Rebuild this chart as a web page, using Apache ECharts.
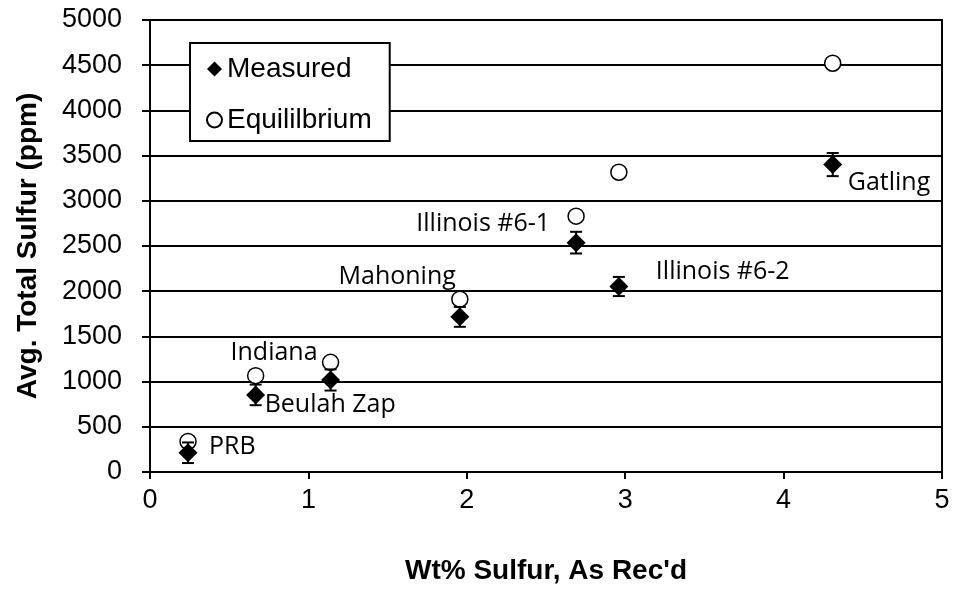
<!DOCTYPE html>
<html>
<head>
<meta charset="utf-8">
<script src="https://cdn.jsdelivr.net/npm/echarts@6/dist/echarts.min.js"></script>
<style>
html,body{margin:0;padding:0;background:#fff;}
#main{width:955px;height:590px;}
</style>
</head>
<body>
<div id="main"></div>
<script>
// ---- data ----
const coalNames = ['PRB', 'Beulah Zap', 'Indiana', 'Mahoning', 'Illinois #6-1', 'Illinois #6-2', 'Gatling'];
const sulfurWt = [0.24, 0.667, 1.14, 1.956, 2.69, 2.96, 4.31];
const measured = [213, 853, 1018, 1716, 2537, 2052, 3401];
const measuredErr = [114, 114, 117, 110, 120, 106, 128];
const equilibrium = [338, 1066, 1213, 1912, 2830, 3316, 4522];
const xTicks = [0, 1, 2, 3, 4, 5];
const yTicks = [0, 500, 1000, 1500, 2000, 2500, 3000, 3500, 4000, 4500, 5000];

// ---- label styling (pixel offsets from the measured marker) ----
const labelStyle = [
  { align: 'left',  offset: [21, -6] },
  { align: 'left',  offset: [9, 10] },
  { align: 'right', offset: [-13, -27] },
  { align: 'right', offset: [-4, -40] },
  { align: 'right', offset: [-26, -19] },
  { align: 'left',  offset: [37, -15] },
  { align: 'left',  offset: [15, 18] }
];

const measuredData = sulfurWt.map((x, i) => ({
  value: [x, measured[i]],
  label: {
    show: true,
    position: 'inside',
    formatter: coalNames[i],
    align: labelStyle[i].align,
    verticalAlign: 'middle',
    offset: labelStyle[i].offset,
    color: '#000',
    fontFamily: 'Open Sans',
    fontSize: 25
  }
}));
const equilibriumData = sulfurWt.map((x, i) => [x, equilibrium[i]]);
const errData = sulfurWt.map((x, i) => [x, measured[i] - measuredErr[i], measured[i] + measuredErr[i]]);

const chart = echarts.init(document.getElementById('main'), null, { renderer: 'canvas' });
chart.setOption({
  animation: false,
  backgroundColor: '#fff',
  grid: { left: 150, right: 13, top: 20, bottom: 117, show: true, borderColor: '#000', borderWidth: 2 },
  legend: {
    data: [
      { name: 'Measured', icon: 'diamond' },
      { name: 'Equililbrium', icon: 'circle' }
    ],
    orient: 'vertical',
    left: 190,
    top: 43,
    itemWidth: 15,
    itemHeight: 15,
    itemGap: 21,
    padding: [11, 18, 6, 16],
    borderColor: '#000',
    borderWidth: 2,
    backgroundColor: '#fff',
    textStyle: { fontFamily: 'Liberation Sans', fontSize: 28, color: '#000', lineHeight: 30 }
  },
  xAxis: {
    type: 'value',
    min: xTicks[0],
    max: xTicks[xTicks.length - 1],
    interval: 1,
    name: "Wt% Sulfur, As Rec'd",
    nameLocation: 'middle',
    nameGap: 85,
    nameTextStyle: { fontFamily: 'Liberation Sans', fontWeight: 'bold', fontSize: 28, color: '#000' },
    axisLine: { show: true, onZero: false, lineStyle: { color: '#000', width: 2 } },
    axisTick: { show: true, inside: false, length: 7, lineStyle: { color: '#000', width: 2 } },
    axisLabel: { fontFamily: 'Liberation Sans', fontSize: 27, color: '#000', margin: 15, formatter: v => String(v) },
    splitLine: { show: false }
  },
  yAxis: {
    type: 'value',
    min: yTicks[0],
    max: yTicks[yTicks.length - 1],
    interval: 500,
    name: 'Avg. Total Sulfur (ppm)',
    nameLocation: 'middle',
    nameGap: 108,
    nameTextStyle: { fontFamily: 'Liberation Sans', fontWeight: 'bold', fontSize: 28, color: '#000' },
    axisLine: { show: true, lineStyle: { color: '#000', width: 2 } },
    axisTick: { show: true, inside: false, length: 8, lineStyle: { color: '#000', width: 2 } },
    axisLabel: { fontFamily: 'Liberation Sans', fontSize: 27, color: '#000', margin: 28, formatter: v => String(v) },
    splitLine: { show: true, lineStyle: { color: '#000', width: 2 } }
  },
  series: [
    {
      name: 'Equililbrium',
      type: 'scatter',
      data: equilibriumData,
      symbol: 'circle',
      symbolSize: 16,
      itemStyle: { color: '#fff', borderColor: '#000', borderWidth: 1.5, opacity: 1 },
      z: 3
    },
    {
      name: 'errorbars',
      type: 'custom',
      data: errData,
      encode: { x: 0, y: [1, 2] },
      renderItem: function (params, api) {
        const x = api.value(0);
        const lo = api.coord([x, api.value(1)]);
        const hi = api.coord([x, api.value(2)]);
        const hw = 6;
        const st = { stroke: '#000', lineWidth: 2 };
        return {
          type: 'group',
          children: [
            { type: 'line', shape: { x1: lo[0], y1: lo[1], x2: hi[0], y2: hi[1] }, style: st },
            { type: 'line', shape: { x1: lo[0] - hw, y1: lo[1], x2: lo[0] + hw, y2: lo[1] }, style: st },
            { type: 'line', shape: { x1: hi[0] - hw, y1: hi[1], x2: hi[0] + hw, y2: hi[1] }, style: st }
          ]
        };
      },
      z: 4
    },
    {
      name: 'Measured',
      type: 'scatter',
      data: measuredData,
      symbol: 'diamond',
      symbolSize: 19,
      itemStyle: { color: '#000', opacity: 1 },
      z: 5
    }
  ]
});
</script>
</body>
</html>
